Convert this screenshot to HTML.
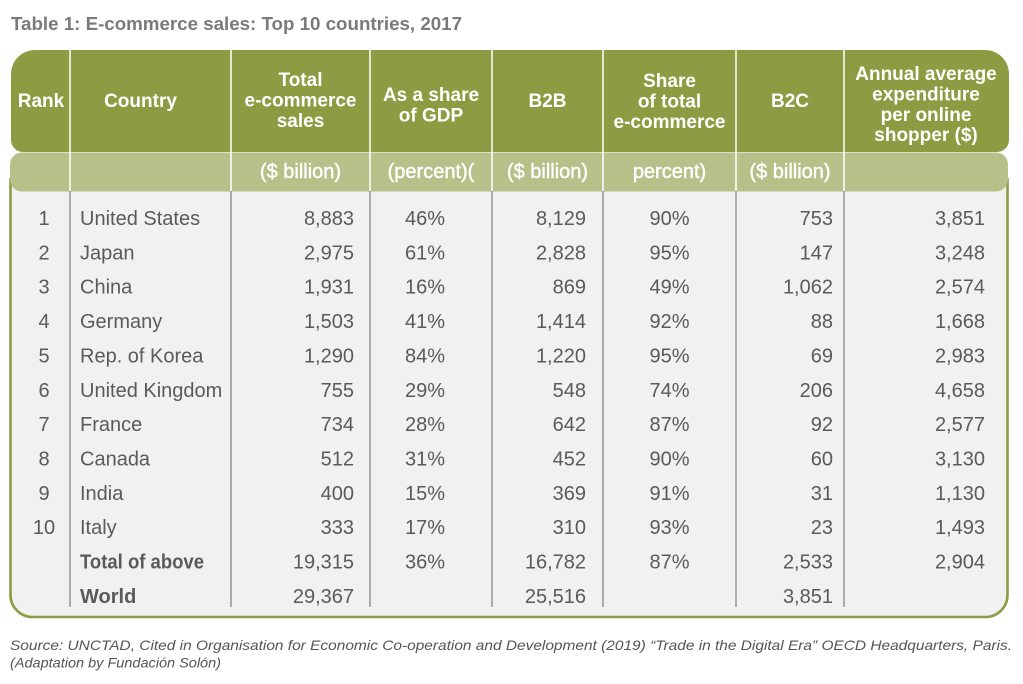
<!DOCTYPE html>
<html><head><meta charset="utf-8"><style>
html,body{margin:0;padding:0;background:#fff;}
svg{display:block;}
text{font-family:"Liberation Sans",sans-serif;}
.h{font-weight:bold;font-size:19px;fill:#fff;text-anchor:middle;}
.s{font-size:20px;fill:#fff;text-anchor:middle;stroke:#fff;stroke-width:0.45;}
.b{font-size:20px;fill:#5a5a5a;}
.r{text-anchor:end;}
.m{text-anchor:middle;}
</style></head><body>
<svg width="1023" height="684" viewBox="0 0 1023 684" xmlns="http://www.w3.org/2000/svg">
<rect width="1023" height="684" fill="#fff"/>
<text x="11" y="30" font-size="18" font-weight="bold" fill="#7a7a7a" textLength="451" lengthAdjust="spacingAndGlyphs">Table 1: E-commerce sales: Top 10 countries, 2017</text>

<!-- body box -->
<path d="M10.5,178 L10.5,595 A22,22 0 0 0 32.5,617 L985.5,617 A22,22 0 0 0 1007.5,595 L1007.5,178 Z" fill="#f1f1f1"/>
<path d="M10.5,178 L10.5,595 A22,22 0 0 0 32.5,617 L985.5,617 A22,22 0 0 0 1007.5,595 L1007.5,178" fill="none" stroke="#8d9c42" stroke-width="2.6"/>

<!-- header -->
<path d="M11,74 A24,24 0 0 1 35,50 L985,50 A24,24 0 0 1 1009,74 L1009,140 A12,12 0 0 1 997,152 L23,152 A12,12 0 0 1 11,140 Z" fill="#8d9c42"/>
<rect x="10" y="152.5" width="998" height="39" rx="12" fill="#b6c088"/>

<!-- header dividers -->
<g stroke="#fff" stroke-width="1.5">
<line x1="70" y1="50" x2="70" y2="191"/>
<line x1="231" y1="50" x2="231" y2="191"/>
<line x1="370" y1="50" x2="370" y2="191"/>
<line x1="492" y1="50" x2="492" y2="191"/>
<line x1="603" y1="50" x2="603" y2="191"/>
<line x1="736" y1="50" x2="736" y2="191"/>
<line x1="844" y1="50" x2="844" y2="191"/>
</g>
<g stroke="#8f8f8f" stroke-width="1.4">
<line x1="70" y1="191" x2="70" y2="607"/>
<line x1="231" y1="191" x2="231" y2="607"/>
<line x1="370" y1="191" x2="370" y2="607"/>
<line x1="492" y1="191" x2="492" y2="607"/>
<line x1="603" y1="191" x2="603" y2="607"/>
<line x1="736" y1="191" x2="736" y2="607"/>
<line x1="844" y1="191" x2="844" y2="607"/>
</g>

<!-- header text -->
<text class="h" x="41" y="107">Rank</text>
<text class="h" x="140.5" y="107">Country</text>
<text class="h" x="300.5" y="86">Total</text>
<text class="h" x="300.5" y="106.5">e-commerce</text>
<text class="h" x="300.5" y="127">sales</text>
<text class="h" x="431" y="101">As a share</text>
<text class="h" x="431" y="121.5">of GDP</text>
<text class="h" x="547.5" y="107">B2B</text>
<text class="h" x="669.5" y="87">Share</text>
<text class="h" x="669.5" y="107.5">of total</text>
<text class="h" x="669.5" y="128">e-commerce</text>
<text class="h" x="790" y="107">B2C</text>
<text class="h" x="926" y="80">Annual average</text>
<text class="h" x="926" y="100.5">expenditure</text>
<text class="h" x="926" y="121">per online</text>
<text class="h" x="926" y="141">shopper ($)</text>

<text class="s" x="300.5" y="178">($ billion)</text>
<text class="s" x="431" y="178">(percent)(</text>
<text class="s" x="547.5" y="178">($ billion)</text>
<text class="s" x="669.5" y="178">percent)</text>
<text class="s" x="790" y="178">($ billion)</text>

<!-- rows -->
<g class="b">
<text class="b m" x="44" y="225">1</text><text class="b" x="80" y="225">United States</text><text class="b r" x="354" y="225">8,883</text><text class="b m" x="425" y="225">46%</text><text class="b r" x="586" y="225">8,129</text><text class="b m" x="669.5" y="225">90%</text><text class="b r" x="833" y="225">753</text><text class="b r" x="985" y="225">3,851</text>
<text class="b m" x="44" y="259.35">2</text><text class="b" x="80" y="259.35">Japan</text><text class="b r" x="354" y="259.35">2,975</text><text class="b m" x="425" y="259.35">61%</text><text class="b r" x="586" y="259.35">2,828</text><text class="b m" x="669.5" y="259.35">95%</text><text class="b r" x="833" y="259.35">147</text><text class="b r" x="985" y="259.35">3,248</text>
<text class="b m" x="44" y="293.7">3</text><text class="b" x="80" y="293.7">China</text><text class="b r" x="354" y="293.7">1,931</text><text class="b m" x="425" y="293.7">16%</text><text class="b r" x="586" y="293.7">869</text><text class="b m" x="669.5" y="293.7">49%</text><text class="b r" x="833" y="293.7">1,062</text><text class="b r" x="985" y="293.7">2,574</text>
<text class="b m" x="44" y="328.05">4</text><text class="b" x="80" y="328.05">Germany</text><text class="b r" x="354" y="328.05">1,503</text><text class="b m" x="425" y="328.05">41%</text><text class="b r" x="586" y="328.05">1,414</text><text class="b m" x="669.5" y="328.05">92%</text><text class="b r" x="833" y="328.05">88</text><text class="b r" x="985" y="328.05">1,668</text>
<text class="b m" x="44" y="362.4">5</text><text class="b" x="80" y="362.4">Rep. of Korea</text><text class="b r" x="354" y="362.4">1,290</text><text class="b m" x="425" y="362.4">84%</text><text class="b r" x="586" y="362.4">1,220</text><text class="b m" x="669.5" y="362.4">95%</text><text class="b r" x="833" y="362.4">69</text><text class="b r" x="985" y="362.4">2,983</text>
<text class="b m" x="44" y="396.75">6</text><text class="b" x="80" y="396.75">United Kingdom</text><text class="b r" x="354" y="396.75">755</text><text class="b m" x="425" y="396.75">29%</text><text class="b r" x="586" y="396.75">548</text><text class="b m" x="669.5" y="396.75">74%</text><text class="b r" x="833" y="396.75">206</text><text class="b r" x="985" y="396.75">4,658</text>
<text class="b m" x="44" y="431.1">7</text><text class="b" x="80" y="431.1">France</text><text class="b r" x="354" y="431.1">734</text><text class="b m" x="425" y="431.1">28%</text><text class="b r" x="586" y="431.1">642</text><text class="b m" x="669.5" y="431.1">87%</text><text class="b r" x="833" y="431.1">92</text><text class="b r" x="985" y="431.1">2,577</text>
<text class="b m" x="44" y="465.45">8</text><text class="b" x="80" y="465.45">Canada</text><text class="b r" x="354" y="465.45">512</text><text class="b m" x="425" y="465.45">31%</text><text class="b r" x="586" y="465.45">452</text><text class="b m" x="669.5" y="465.45">90%</text><text class="b r" x="833" y="465.45">60</text><text class="b r" x="985" y="465.45">3,130</text>
<text class="b m" x="44" y="499.8">9</text><text class="b" x="80" y="499.8">India</text><text class="b r" x="354" y="499.8">400</text><text class="b m" x="425" y="499.8">15%</text><text class="b r" x="586" y="499.8">369</text><text class="b m" x="669.5" y="499.8">91%</text><text class="b r" x="833" y="499.8">31</text><text class="b r" x="985" y="499.8">1,130</text>
<text class="b m" x="44" y="534.15">10</text><text class="b" x="80" y="534.15">Italy</text><text class="b r" x="354" y="534.15">333</text><text class="b m" x="425" y="534.15">17%</text><text class="b r" x="586" y="534.15">310</text><text class="b m" x="669.5" y="534.15">93%</text><text class="b r" x="833" y="534.15">23</text><text class="b r" x="985" y="534.15">1,493</text>
<text class="b" x="80" y="568.5" font-weight="bold" textLength="124" lengthAdjust="spacingAndGlyphs">Total of above</text><text class="b r" x="354" y="568.5">19,315</text><text class="b m" x="425" y="568.5">36%</text><text class="b r" x="586" y="568.5">16,782</text><text class="b m" x="669.5" y="568.5">87%</text><text class="b r" x="833" y="568.5">2,533</text><text class="b r" x="985" y="568.5">2,904</text>
<text class="b" x="80" y="602.85" font-weight="bold">World</text><text class="b r" x="354" y="602.85">29,367</text><text class="b r" x="586" y="602.85">25,516</text><text class="b r" x="833" y="602.85">3,851</text>
</g>

<!-- source -->
<text x="10" y="650" font-size="14" font-style="italic" fill="#555" textLength="1002" lengthAdjust="spacingAndGlyphs">Source: UNCTAD, Cited in Organisation for Economic Co-operation and Development (2019) “Trade in the Digital Era” OECD Headquarters, Paris.</text>
<text x="10" y="667.5" font-size="14" font-style="italic" fill="#555" textLength="211" lengthAdjust="spacingAndGlyphs">(Adaptation by Fundación Solón)</text>
</svg>
</body></html>
